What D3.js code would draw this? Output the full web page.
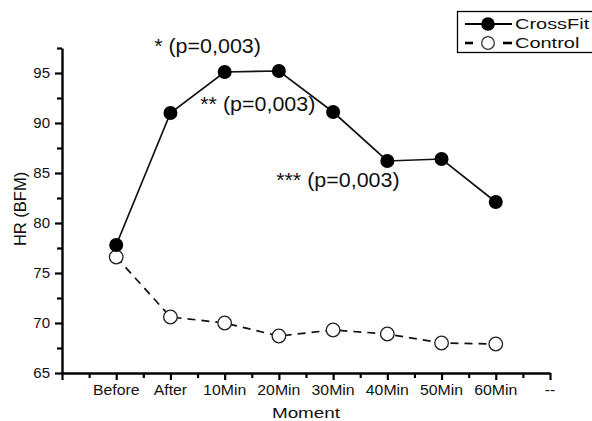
<!DOCTYPE html>
<html>
<head>
<meta charset="utf-8">
<script src="https://cdn.jsdelivr.net/npm/d3@7"></script>
<style>
  body { margin: 0; background: #fff; }
  text { font-family: "Liberation Sans", Arial, sans-serif; fill: #111; }
</style>
</head>
<body>
<div id="chart"></div>
<script>
// Data
const moments = ["", "Before", "After", "10Min", "20Min", "30Min", "40Min", "50Min", "60Min", "--"];
const crossfit = [77.8, 91.0, 95.1, 95.2, 91.1, 86.2, 86.4, 82.1];
const control = [76.6, 70.6, 70.0, 68.7, 69.3, 68.9, 68.0, 67.9];
const yTicks = [65, 70, 75, 80, 85, 90, 95];
const notes = [
  {label: "* (p=0,003)", at: 1.7, value: 97.0},
  {label: "** (p=0,003)", at: 2.55, value: 91.2},
  {label: "*** (p=0,003)", at: 3.95, value: 83.6}
];

const width = 592, height = 421;

const svg = d3.select("#chart").append("svg")
  .attr("width", width)
  .attr("height", height);

// the source picture is a bit wider than tall, so widen text to match
function widen(sel, k) {
  sel.each(function() {
    const w = this.getComputedTextLength();
    if (w > 0) {
      this.setAttribute("textLength", w * k);
      this.setAttribute("lengthAdjust", "spacingAndGlyphs");
    }
  });
}

// Scales
const x = d3.scaleLinear().domain([0, 9]).range([62, 550]);
const y = d3.scaleLinear().domain([65, 97.5]).range([373, 48]);

// Axes
const xAxis = d3.axisBottom(x)
  .tickValues(d3.range(0, 9.01, 0.5))
  .tickSize(0)
  .tickFormat("");
const gx = svg.append("g")
  .attr("transform", "translate(0," + y(65) + ")")
  .call(xAxis);
gx.select(".domain").attr("stroke", "#000").attr("stroke-width", 2.4);
gx.selectAll(".tick line")
  .attr("stroke", "#000")
  .attr("stroke-width", 2.2)
  .attr("y2", d => Number.isInteger(d) ? 7 : 5);

svg.append("g").selectAll("text")
  .data(moments)
  .enter().append("text")
  .attr("x", (d, i) => x(i))
  .attr("y", 395)
  .attr("text-anchor", "middle")
  .attr("font-size", 14)
  .text(d => d)
  .call(widen, 1.13);

const yAxis = d3.axisLeft(y)
  .tickValues(d3.range(65, 97.6, 2.5))
  .tickSize(0)
  .tickFormat("");
const gy = svg.append("g")
  .attr("transform", "translate(" + x(0) + ",0)")
  .call(yAxis);
gy.select(".domain").attr("stroke", "#000").attr("stroke-width", 2.4);
gy.selectAll(".tick line")
  .attr("stroke", "#000")
  .attr("stroke-width", 2.2)
  .attr("x2", d => d % 5 === 0 ? -7 : -5);

svg.append("g").selectAll("text")
  .data(yTicks)
  .enter().append("text")
  .attr("x", 50)
  .attr("y", d => y(d))
  .attr("dy", "0.36em")
  .attr("text-anchor", "end")
  .attr("font-size", 15)
  .text(d => d);

// Axis labels
svg.append("text")
  .attr("transform", "translate(26,209) rotate(-90)")
  .attr("text-anchor", "middle")
  .attr("font-size", 16.5)
  .text("HR (BFM)");

svg.append("text")
  .attr("x", 306)
  .attr("y", 418)
  .attr("text-anchor", "middle")
  .attr("font-size", 14.5)
  .text("Moment")
  .call(widen, 1.3);

// Lines
const line = d3.line()
  .x((d, i) => x(i + 1))
  .y(d => y(d));

svg.append("path")
  .datum(control)
  .attr("fill", "none")
  .attr("stroke", "#111")
  .attr("stroke-width", 1.7)
  .attr("stroke-dasharray", "8,6")
  .attr("d", line);

svg.append("path")
  .datum(crossfit)
  .attr("fill", "none")
  .attr("stroke", "#111")
  .attr("stroke-width", 1.7)
  .attr("d", line);

svg.selectAll(".ctl")
  .data(control)
  .enter().append("circle")
  .attr("class", "ctl")
  .attr("cx", (d, i) => x(i + 1))
  .attr("cy", d => y(d))
  .attr("r", 6.8)
  .attr("fill", "#fff")
  .attr("stroke", "#222")
  .attr("stroke-width", 1.3);

svg.selectAll(".cf")
  .data(crossfit)
  .enter().append("circle")
  .attr("class", "cf")
  .attr("cx", (d, i) => x(i + 1))
  .attr("cy", d => y(d))
  .attr("r", 7)
  .attr("fill", "#000");

// Annotations
svg.selectAll(".note")
  .data(notes)
  .enter().append("text")
  .attr("class", "note")
  .attr("x", d => x(d.at))
  .attr("y", d => y(d.value))
  .attr("font-size", 19.5)
  .text(d => d.label)
  .call(widen, 1.1);

// Legend
const legend = svg.append("g");
legend.append("rect")
  .attr("x", 457.5)
  .attr("y", 11.5)
  .attr("width", 140)
  .attr("height", 41)
  .attr("fill", "#fff")
  .attr("stroke", "#000")
  .attr("stroke-width", 1.3);

legend.append("line")
  .attr("x1", 465).attr("x2", 512)
  .attr("y1", 24).attr("y2", 24)
  .attr("stroke", "#000").attr("stroke-width", 2);
legend.append("circle")
  .attr("cx", 488).attr("cy", 24).attr("r", 6.8)
  .attr("fill", "#000");
legend.append("text")
  .attr("x", 515).attr("y", 24).attr("dy", "0.36em")
  .attr("font-size", 15)
  .text("CrossFit")
  .call(widen, 1.33);

legend.selectAll(".dash")
  .data([[465, 473], [503, 512]])
  .enter().append("line")
  .attr("class", "dash")
  .attr("x1", d => d[0]).attr("x2", d => d[1])
  .attr("y1", 43).attr("y2", 43)
  .attr("stroke", "#000").attr("stroke-width", 2.6);
legend.append("circle")
  .attr("cx", 488).attr("cy", 43).attr("r", 6.3)
  .attr("fill", "#fff")
  .attr("stroke", "#333").attr("stroke-width", 1.3);
legend.append("text")
  .attr("x", 515).attr("y", 43).attr("dy", "0.36em")
  .attr("font-size", 15)
  .text("Control")
  .call(widen, 1.33);
</script>
</body>
</html>
